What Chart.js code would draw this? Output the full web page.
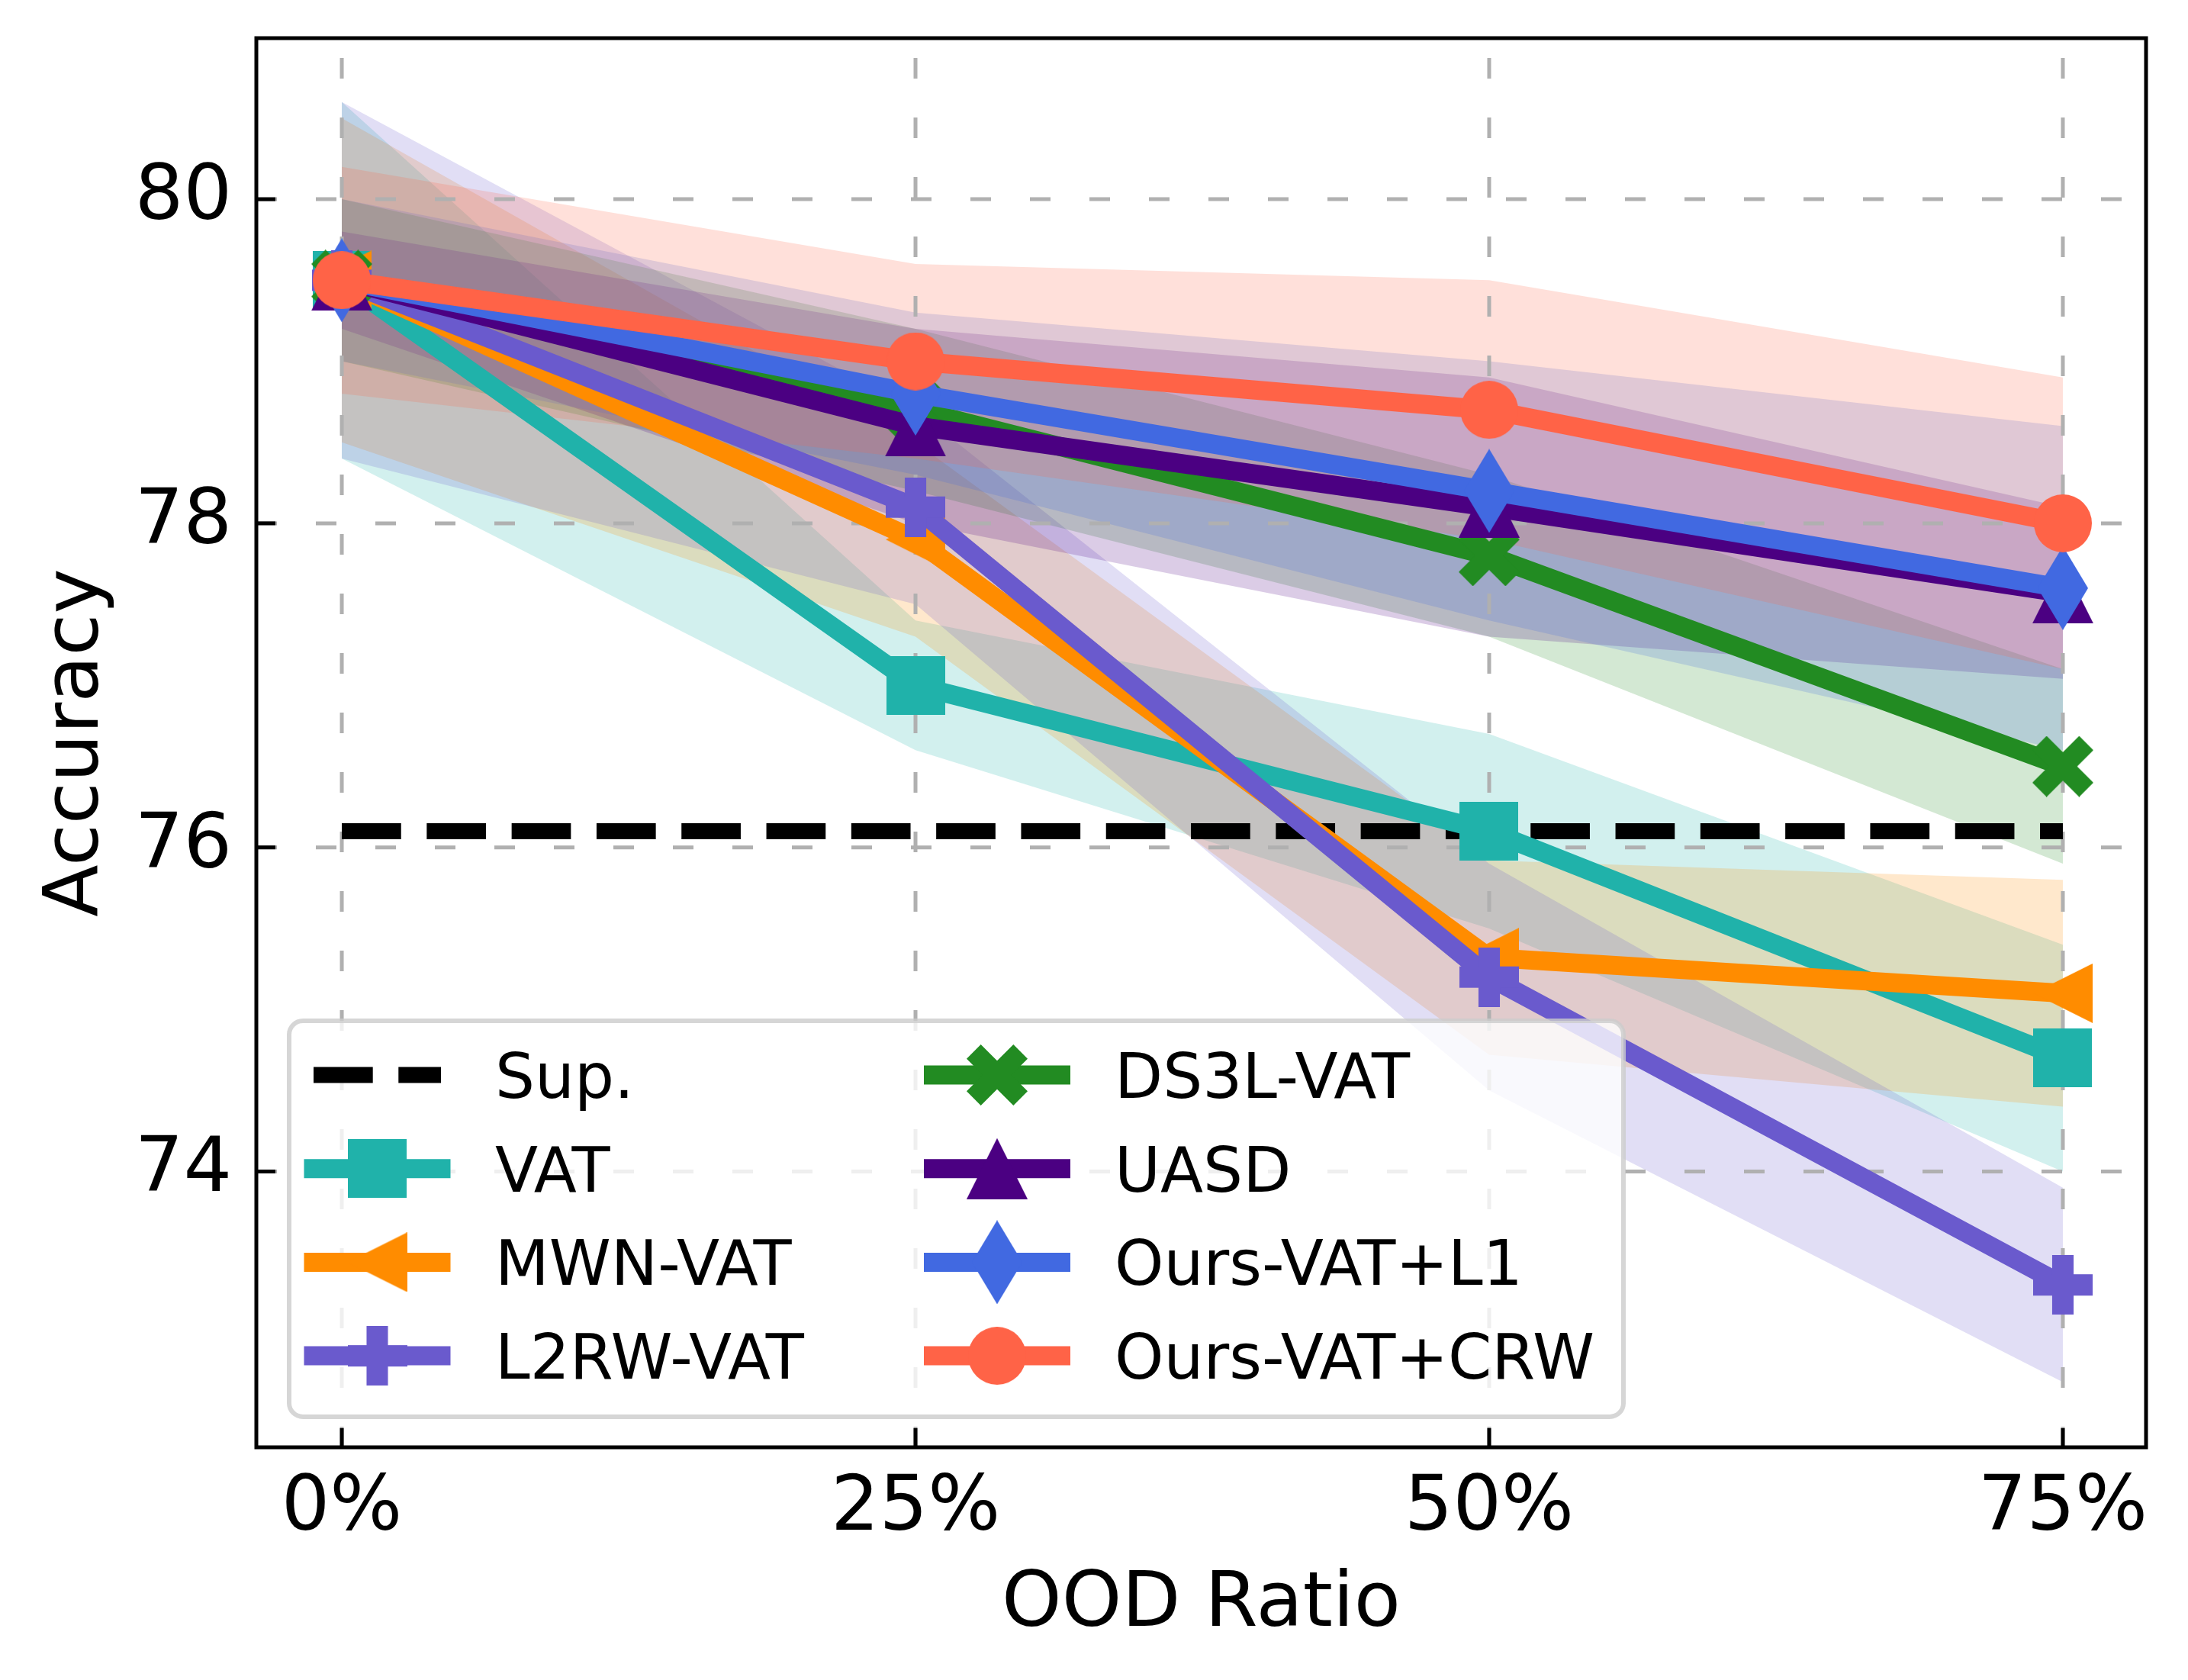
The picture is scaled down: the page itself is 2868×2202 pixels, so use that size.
<!DOCTYPE html>
<html>
<head>
<meta charset="utf-8">
<script src="https://cdn.jsdelivr.net/npm/chart.js@4/dist/chart.umd.min.js"></script>
<style>
html,body{margin:0;padding:0;background:#ffffff;}
canvas{display:block;}
</style>
</head>
<body>
<canvas id="c" width="2868" height="2202" style="width:2868px;height:2202px"></canvas>
<script>
// ---------------- data ----------------
const xValues = [0, 1, 2, 3];
const xTickLabels = ['0%', '25%', '50%', '75%'];
const yTicks = [74, 76, 78, 80];

const supLabel = 'Sup.';
const supAcc = [76.1, 76.1, 76.1, 76.1];

const vatAcc  = [79.5, 77.0, 76.1, 74.7];
const vatStd  = [1.1, 0.4, 0.6, 0.7];
const mwnAcc  = [79.5, 77.9, 75.32, 75.1];
const mwnStd  = [1.0, 0.6, 0.6, 0.7];
const l2rwAcc = [79.5, 78.1, 75.2, 73.3];
const l2rwStd = [1.1, 0.6, 0.7, 0.6];
const ds3lAcc = [79.5, 78.7, 77.8, 76.5];
const ds3lStd = [0.5, 0.5, 0.5, 0.6];
const uasdAcc = [79.5, 78.6, 78.1, 77.57];
const uasdStd = [0.3, 0.6, 0.8, 0.53];
const l1Acc   = [79.5, 78.8, 78.2, 77.6];
const l1Std   = [0.5, 0.5, 0.8, 1.0];
const crwAcc  = [79.5, 79.0, 78.7, 78.0];
const crwStd  = [0.7, 0.6, 0.8, 0.9];

// ---------------- styles ----------------
const FONT = "'DejaVu Sans', 'Liberation Sans', sans-serif";
const LINE_W = 25;
const SUP_W = 21;
const SUP_DASH = [77.7, 33.6];

function makeMarker(shape, color, w, h) {
  const c = document.createElement('canvas');
  c.width = w; c.height = h;
  const g = c.getContext('2d');
  g.fillStyle = color;
  g.beginPath();
  if (shape === 'square') { g.rect(0, 0, w, h); }
  else if (shape === 'circle') { g.arc(w / 2, h / 2, w / 2, 0, Math.PI * 2); }
  else if (shape === 'triUp') { g.moveTo(w / 2, 0); g.lineTo(w, h); g.lineTo(0, h); g.closePath(); }
  else if (shape === 'triLeft') { g.moveTo(0, h / 2); g.lineTo(w, 0); g.lineTo(w, h); g.closePath(); }
  else if (shape === 'thinDiamond') { g.moveTo(w / 2, 0); g.lineTo(w, h / 2); g.lineTo(w / 2, h); g.lineTo(0, h / 2); g.closePath(); }
  else if (shape === 'plus') { const t = w * 0.36; g.rect((w - t) / 2, 0, t, h); g.rect(0, (h - t) / 2, w, t); }
  else if (shape === 'x') {
    g.translate(w / 2, h / 2); g.rotate(Math.PI / 4);
    const b = w * 0.165; const a = (w / 2) * Math.SQRT2 - b;
    g.rect(-a, -b, 2 * a, 2 * b); g.rect(-b, -a, 2 * b, 2 * a);
  }
  g.fill('nonzero');
  return c;
}

const series = [
  { label: 'VAT',          mean: vatAcc,  std: vatStd,  color: '#20B2AA', rgb: '32,178,170',  marker: makeMarker('square', '#20B2AA', 77, 77) },
  { label: 'MWN-VAT',      mean: mwnAcc,  std: mwnStd,  color: '#FF8C00', rgb: '255,140,0',   marker: makeMarker('triLeft', '#FF8C00', 78, 78) },
  { label: 'L2RW-VAT',     mean: l2rwAcc, std: l2rwStd, color: '#6A5ACD', rgb: '106,90,205',  marker: makeMarker('plus', '#6A5ACD', 78, 78) },
  { label: 'DS3L-VAT',     mean: ds3lAcc, std: ds3lStd, color: '#228B22', rgb: '34,139,34',   marker: makeMarker('x', '#228B22', 80, 80) },
  { label: 'UASD',         mean: uasdAcc, std: uasdStd, color: '#4B0082', rgb: '75,0,130',    marker: makeMarker('triUp', '#4B0082', 80, 80) },
  { label: 'Ours-VAT+L1',  mean: l1Acc,   std: l1Std,   color: '#4169E1', rgb: '65,105,225',  marker: makeMarker('thinDiamond', '#4169E1', 66, 110) },
  { label: 'Ours-VAT+CRW', mean: crwAcc,  std: crwStd,  color: '#FF6347', rgb: '255,99,71',   marker: makeMarker('circle', '#FF6347', 76, 76) }
];

// ---------------- datasets ----------------
const datasets = [];
series.forEach((s, k) => {
  datasets.push({
    label: s.label + ' upper',
    data: xValues.map((x, i) => ({ x: x, y: s.mean[i] + s.std[i] })),
    fill: '+1',
    backgroundColor: 'rgba(' + s.rgb + ',0.2)',
    borderColor: 'rgba(0,0,0,0)',
    borderWidth: 0,
    pointRadius: 0,
    order: 200 - k
  });
  datasets.push({
    label: s.label + ' lower',
    data: xValues.map((x, i) => ({ x: x, y: s.mean[i] - s.std[i] })),
    fill: false,
    borderColor: 'rgba(0,0,0,0)',
    borderWidth: 0,
    pointRadius: 0,
    order: 300
  });
});
datasets.push({
  label: supLabel,
  data: xValues.map((x, i) => ({ x: x, y: supAcc[i] })),
  fill: false,
  borderColor: '#000000',
  borderWidth: SUP_W,
  borderDash: SUP_DASH,
  borderCapStyle: 'butt',
  pointRadius: 0,
  order: 50
});
series.forEach((s, k) => {
  datasets.push({
    label: s.label,
    data: xValues.map((x, i) => ({ x: x, y: s.mean[i] })),
    fill: false,
    borderColor: s.color,
    backgroundColor: s.color,
    borderWidth: LINE_W,
    borderJoinStyle: 'round',
    borderCapStyle: 'square',
    pointStyle: s.marker,
    pointRadius: 1,
    pointBorderWidth: 0,
    clip: false,
    order: 40 - k
  });
});

// ---------------- decorations plugin ----------------
const decor = {
  id: 'decor',
  beforeDraw(chart) {
    const ctx = chart.ctx;
    ctx.save();
    ctx.fillStyle = '#ffffff';
    ctx.fillRect(0, 0, chart.width, chart.height);
    ctx.restore();
  },
  beforeDatasetsDraw(chart) {
    const { ctx, chartArea: a, scales: { x, y } } = chart;
    ctx.save();
    ctx.strokeStyle = '#b0b0b0';
    ctx.lineWidth = 5;
    ctx.setLineDash([27, 51]);
    ctx.lineCap = 'butt';
    yTicks.forEach(v => {
      const py = y.getPixelForValue(v);
      ctx.beginPath(); ctx.moveTo(a.left, py); ctx.lineTo(a.right, py); ctx.stroke();
    });
    xValues.forEach(v => {
      const px = x.getPixelForValue(v);
      ctx.beginPath(); ctx.moveTo(px, a.bottom); ctx.lineTo(px, a.top); ctx.stroke();
    });
    ctx.restore();
  },
  afterDatasetsDraw(chart) {
    const { ctx, chartArea: a, scales: { x, y } } = chart;
    ctx.save();
    ctx.strokeStyle = '#000000';
    ctx.lineWidth = 5;
    ctx.setLineDash([]);
    yTicks.forEach(v => {
      const py = y.getPixelForValue(v);
      ctx.beginPath(); ctx.moveTo(a.left, py); ctx.lineTo(a.left + 25, py); ctx.stroke();
    });
    xValues.forEach(v => {
      const px = x.getPixelForValue(v);
      ctx.beginPath(); ctx.moveTo(px, a.bottom); ctx.lineTo(px, a.bottom - 25); ctx.stroke();
    });
    ctx.strokeRect(a.left, a.top, a.right - a.left, a.bottom - a.top);
    ctx.restore();

    // legend
    const box = { x: 379, y: 1338, w: 1749, h: 519, r: 18 };
    ctx.save();
    ctx.beginPath();
    if (ctx.roundRect) ctx.roundRect(box.x, box.y, box.w, box.h, box.r);
    else ctx.rect(box.x, box.y, box.w, box.h);
    ctx.fillStyle = 'rgba(255,255,255,0.8)';
    ctx.fill();
    ctx.strokeStyle = 'rgba(204,204,204,0.8)';
    ctx.lineWidth = 6;
    ctx.stroke();

    const rowY0 = 1409, rowStep = 122.7;
    const colCenters = [494.5, 1307];
    const textX = [649, 1461];
    const handleHalf = 83.5;
    const entries = [{ label: supLabel, sup: true }].concat(series);
    ctx.font = '82px ' + FONT;
    ctx.fillStyle = '#000000';
    ctx.textBaseline = 'alphabetic';
    ctx.textAlign = 'left';
    entries.forEach((e, i) => {
      const col = Math.floor(i / 4), row = i % 4;
      const cy = rowY0 + row * rowStep;
      const cx = colCenters[col];
      ctx.save();
      if (e.sup) {
        ctx.strokeStyle = '#000000';
        ctx.lineWidth = SUP_W;
        ctx.setLineDash(SUP_DASH);
        ctx.lineCap = 'butt';
      } else {
        ctx.strokeStyle = e.color;
        ctx.lineWidth = LINE_W;
        ctx.setLineDash([]);
        ctx.lineCap = 'square';
      }
      ctx.beginPath();
      ctx.moveTo(cx - handleHalf, cy);
      ctx.lineTo(cx + handleHalf, cy);
      ctx.stroke();
      if (!e.sup) {
        ctx.drawImage(e.marker, cx - e.marker.width / 2, cy - e.marker.height / 2);
      }
      ctx.restore();
      ctx.fillText(e.label, textX[col], cy + 30);
    });
    ctx.restore();
  }
};

// ---------------- chart ----------------
Chart.defaults.font.family = FONT;
Chart.defaults.color = '#000000';

function zeroPadding(s) {
  s.paddingLeft = 0; s.paddingRight = 0; s.paddingTop = 0; s.paddingBottom = 0;
}

new Chart(document.getElementById('c'), {
  type: 'line',
  data: { datasets: datasets },
  options: {
    responsive: false,
    devicePixelRatio: 1,
    animation: false,
    events: [],
    layout: { autoPadding: false, padding: { left: 0, top: 50, right: 55, bottom: 0 } },
    plugins: {
      legend: { display: false },
      tooltip: { enabled: false },
      filler: { drawTime: 'beforeDatasetsDraw', propagate: false }
    },
    elements: { line: { tension: 0 } },
    scales: {
      x: {
        type: 'linear',
        min: -0.149,
        max: 3.145,
        afterBuildTicks: s => { s.ticks = xValues.map(v => ({ value: v })); },
        afterFit: s => { s.height = 305; zeroPadding(s); },
        ticks: {
          callback: (v, i) => xTickLabels[i],
          font: { size: 100 },
          color: '#000000',
          padding: 22,
          maxRotation: 0,
          autoSkip: false
        },
        grid: { display: false, drawTicks: false },
        border: { display: false },
        title: { display: true, text: 'OOD Ratio', font: { size: 100 }, color: '#000000', padding: { top: 0, bottom: 37 } }
      },
      y: {
        type: 'linear',
        min: 72.298,
        max: 80.994,
        afterBuildTicks: s => { s.ticks = yTicks.map(v => ({ value: v })); },
        afterFit: s => { s.width = 336; zeroPadding(s); },
        ticks: {
          callback: v => String(v),
          font: { size: 100 },
          color: '#000000',
          padding: 32
        },
        grid: { display: false, drawTicks: false },
        border: { display: false },
        title: { display: true, text: 'Accuracy', font: { size: 100 }, color: '#000000', padding: { top: 42, bottom: 0 } }
      }
    }
  },
  plugins: [decor]
});
</script>
</body>
</html>
